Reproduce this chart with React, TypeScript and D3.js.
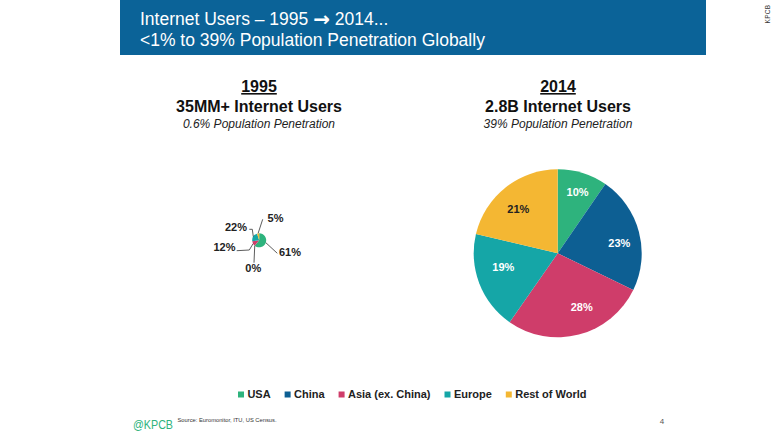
import React from 'react';
import * as d3 from 'd3';

// ---------- data ----------
const categories = ['USA', 'China', 'Asia (ex. China)', 'Europe', 'Rest of World'];
const share1995 = [61, 0, 12, 22, 5];
const share2014 = [9.6, 22.6, 27.5, 19.0, 21.3];
const labels1995 = ['61%', '0%', '12%', '22%', '5%'];
const labels2014 = ['10%', '23%', '28%', '19%', '21%'];
const titleLine1 = ['Internet Users \u2013 1995 ', '\u2192', ' 2014...'];
const titleLine2 = '<1% to 39% Population Penetration Globally';
const panelYears = ['1995', '2014'];
const panelUsers = ['35MM+ Internet Users', '2.8B Internet Users'];
const panelPenetration = ['0.6% Population Penetration', '39% Population Penetration'];

// ---------- styles / layout ----------
const colors = ['#2eb37d', '#0d5f93', '#cf3d6a', '#15a6a7', '#f4b733'];
const labelColors2014 = ['#fff', '#fff', '#fff', '#fff', '#222'];
const FONT = '"Liberation Sans", Arial, Helvetica, sans-serif';
const W = 780;
const H = 439;

// label placement for the tiny 1995 pie (relative to its centre)
const small1995Layout = [
  { lx: 30.8, ly: 15.7, pts: [[18.1, 13]] },
  { lx: -5.9, ly: 32.2, pts: [[-5.2, 22.4]] },
  { lx: -34.7, ly: 11.2, pts: [[-9.9, 9.7], [-22.5, 10.4]] },
  { lx: -23.2, ly: -9.8, pts: [[-6.9, -11], [-9.9, -11]] },
  { lx: 16.3, ly: -18.3, pts: [[3.5, -21]] },
];
const big2014Nudge = [
  [1.5, -1.8],
  [1.7, 5.8],
  [8.4, -6.6],
  [3.5, -8.8],
  [-0.9, 4.3],
];

function measure(text: string, font: string): number {
  if (typeof document === 'undefined') return text.length * 6;
  const c = document.createElement('canvas');
  const ctx = c.getContext('2d');
  if (!ctx) return text.length * 6;
  ctx.font = font;
  return ctx.measureText(text).width;
}

export default function App() {
  const pie = d3.pie<number>().sort(null).value((d) => d);

  // 1995 pie
  const c1 = { x: 259.2, y: 240.3 };
  const r1 = 7;
  const arcs1 = pie(share1995);
  const arcSmall = d3.arc<d3.PieArcDatum<number>>().innerRadius(0).outerRadius(r1);

  // 2014 pie
  const c2 = { x: 557.7, y: 253.3 };
  const r2 = 84;
  const arcs2 = pie(share2014);
  const arcBig = d3.arc<d3.PieArcDatum<number>>().innerRadius(0).outerRadius(r2);
  const arcLabel = d3.arc<d3.PieArcDatum<number>>().innerRadius(62).outerRadius(62);

  // legend layout
  const legendFont = `bold 11px ${FONT}`;
  const legendItems: { x: number; label: string; color: string }[] = [];
  let lx = 238;
  categories.forEach((c, i) => {
    legendItems.push({ x: lx, label: c, color: colors[i] });
    lx += 6 + 3.4 + measure(c, legendFont) + 14;
  });

  const panelX = [259, 558];

  return (
    <svg width={W} height={H} style={{ position: 'absolute', left: 0, top: 0, background: '#fff' }} fontFamily={FONT}>
      <rect x={0} y={0} width={W} height={H} fill="#fff" />
      {/* header */}
      <rect x={120} y={0} width={586} height={55} fill="#0b6398" />
      <text x={140} y={24.5} fill="#fff" fontSize={17.5}>
        <tspan>{titleLine1[0]}</tspan>
        <tspan fontFamily='"DejaVu Sans", sans-serif' fontWeight="bold" fontSize={20} dy={1}>
          {titleLine1[1]}
        </tspan>
        <tspan dy={-1}>{titleLine1[2]}</tspan>
      </text>
      <text x={140} y={45.8} fill="#fff" fontSize={17.5}>
        {titleLine2}
      </text>
      {/* side KPCB */}
      <text transform="translate(769.5,14) rotate(-90)" textAnchor="middle" fontSize={6.5} fill="#333" letterSpacing={0.3}>
        KPCB
      </text>

      {/* panel titles */}
      {panelYears.map((y, i) => (
        <g key={y}>
          <text x={panelX[i]} y={92} textAnchor="middle" fontSize={16} fontWeight="bold" fill="#111" textDecoration="underline">
            {y}
          </text>
          <text x={panelX[i]} y={112} textAnchor="middle" fontSize={16} fontWeight="bold" fill="#111">
            {panelUsers[i]}
          </text>
          <text x={panelX[i]} y={127.5} textAnchor="middle" fontSize={12} fontStyle="italic" fill="#222">
            {panelPenetration[i]}
          </text>
        </g>
      ))}

      {/* 1995 pie */}
      <g transform={`translate(${c1.x},${c1.y})`}>
        {arcs1.map((a, i) => (
          <path key={i} d={arcSmall(a) || ''} fill={colors[i]} />
        ))}
        {arcs1.map((a, i) => {
          const mid = (a.startAngle + a.endAngle) / 2;
          const sx = Math.sin(mid) * r1;
          const sy = -Math.cos(mid) * r1;
          const lay = small1995Layout[i];
          const pts = [[sx, sy], ...lay.pts];
          const line = d3.line()(pts as [number, number][]);
          return (
            <g key={'l' + i}>
              <path d={line || ''} fill="none" stroke="#333" strokeWidth={0.8} />
              <text x={lay.lx} y={lay.ly} textAnchor="middle" fontSize={11} fontWeight="bold" fill="#222">
                {labels1995[i]}
              </text>
            </g>
          );
        })}
      </g>

      {/* 2014 pie */}
      <g transform={`translate(${c2.x},${c2.y})`}>
        {arcs2.map((a, i) => (
          <path key={i} d={arcBig(a) || ''} fill={colors[i]} />
        ))}
        {arcs2.map((a, i) => {
          const [x, y] = arcLabel.centroid(a);
          return (
            <text
              key={'t' + i}
              x={x + big2014Nudge[i][0]}
              y={y + big2014Nudge[i][1]}
              dy="0.36em"
              textAnchor="middle"
              fontSize={11}
              fontWeight="bold"
              fill={labelColors2014[i]}
            >
              {labels2014[i]}
            </text>
          );
        })}
      </g>

      {/* legend */}
      {legendItems.map((it) => (
        <g key={it.label}>
          <rect x={it.x} y={391.5} width={6} height={6} fill={it.color} />
          <text x={it.x + 9.4} y={397.5} fontSize={11} fontWeight="bold" fill="#222">
            {it.label}
          </text>
        </g>
      ))}

      {/* footer */}
      <text x={133} y={428.5} fontSize={13} fill="#2eb37d" textLength={40} lengthAdjust="spacingAndGlyphs">
        @KPCB
      </text>
      <text x={177.5} y={421.5} fontSize={6} fill="#333" textLength={99} lengthAdjust="spacingAndGlyphs">
        Source: Euromonitor, ITU, US Census.
      </text>
      <text x={662} y={424} textAnchor="middle" fontSize={8} fill="#555">
        4
      </text>
    </svg>
  );
}
